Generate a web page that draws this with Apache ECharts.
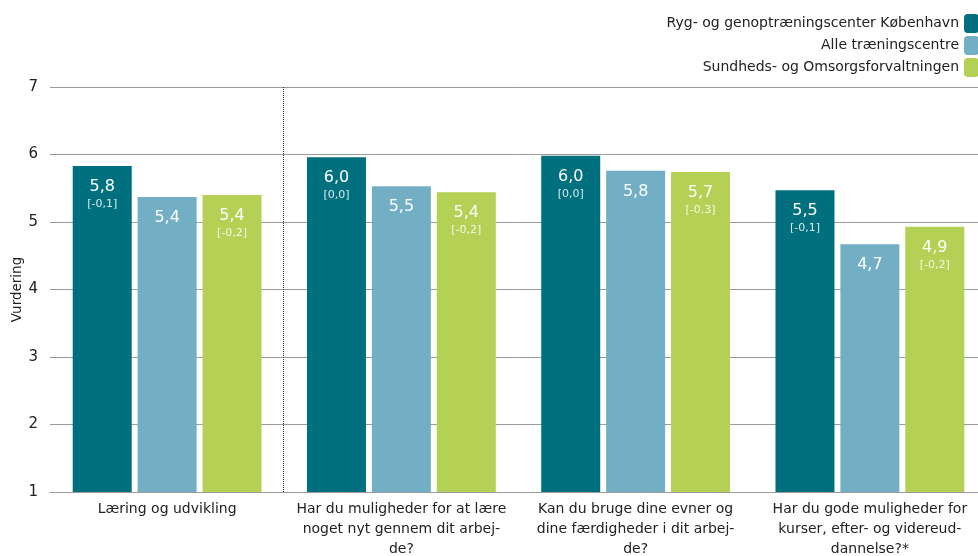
<!DOCTYPE html>
<html><head><meta charset="utf-8">
<script src="https://cdn.jsdelivr.net/npm/echarts@6/dist/echarts.min.js"></script>
<style>html,body{margin:0;padding:0;background:#fff}#c{width:978px;height:556px}</style>
</head><body><div id="c"></div>
<script>
const categories = [
  "Læring og udvikling",
  "Har du muligheder for at lære\nnoget nyt gennem dit arbej-\nde?",
  "Kan du bruge dine evner og\ndine færdigheder i dit arbej-\nde?",
  "Har du gode muligheder for\nkurser, efter- og videreud-\ndannelse?*"
];
const seriesNames = ["Ryg- og genoptræningscenter København", "Alle træningscentre", "Sundheds- og Omsorgsforvaltningen"];
const rygValues = [5.83, 5.96, 5.98, 5.47];
const alleValues = [5.37, 5.53, 5.76, 4.67];
const sofValues = [5.40, 5.44, 5.74, 4.93];
const rygDiffs = ["-0,1", "0,0", "0,0", "-0,1"];
const alleDiffs = [null, null, null, null];
const sofDiffs = ["-0,2", "-0,2", "-0,3", "-0,2"];
const yTicks = [1, 2, 3, 4, 5, 6, 7];
const colors = ["#00707F", "#72AFC4", "#B5D155"];

const FONT = "DejaVu Sans";
function mkSeries(name, vals, diffs, color) {
  return {
    name: name, type: 'bar', data: vals, barWidth: 59, barGap: '10%',
    itemStyle: { color: color },
    label: {
      show: true, position: 'insideTop', distance: 11,
      formatter: p => {
        const v = '{v|' + p.value.toFixed(1).replace('.', ',') + '}';
        const d = diffs[p.dataIndex];
        return d ? v + '\n{d|[' + d + ']}' : v;
      },
      rich: {
        v: { fontFamily: FONT, fontSize: 16, color: '#fff', lineHeight: 20 },
        d: { fontFamily: FONT, fontSize: 11, color: 'rgba(255,255,255,0.85)', lineHeight: 14 }
      }
    }
  };
}
const chart = echarts.init(document.getElementById('c'));
chart.setOption({
  animation: false,
  color: colors,
  textStyle: { fontFamily: FONT },
  legend: {
    orient: 'vertical', right: -6, top: 9, align: 'right',
    itemWidth: 15, itemHeight: 19, itemGap: 3,
    textStyle: { fontFamily: FONT, fontSize: 14, color: '#222' },
    data: seriesNames
  },
  grid: { left: 50, right: -9, top: 87, bottom: 64, outerBoundsMode: 'none', containLabel: false },
  xAxis: {
    type: 'category', data: categories,
    axisTick: { show: false },
    axisLine: { lineStyle: { color: '#999' } },
    axisLabel: { fontFamily: FONT, fontSize: 14, color: '#222', lineHeight: 20, margin: 7, interval: 0 },
    splitLine: { show: false }
  },
  yAxis: {
    type: 'value', min: 1, max: 7, interval: 1,
    name: 'Vurdering', nameLocation: 'middle', nameGap: 26, nameMoveOverlap: false,
    nameTextStyle: { fontFamily: FONT, fontSize: 13.5, color: '#222' },
    axisLabel: { fontFamily: FONT, fontSize: 15, color: '#222', margin: 12,
      formatter: v => yTicks.includes(v) ? String(v) : '' },
    axisLine: { show: false }, axisTick: { show: false },
    splitLine: { lineStyle: { color: '#9a9a9a' } }
  },
  series: [
    mkSeries(seriesNames[0], rygValues, rygDiffs, colors[0]),
    mkSeries(seriesNames[1], alleValues, alleDiffs, colors[1]),
    mkSeries(seriesNames[2], sofValues, sofDiffs, colors[2])
  ]
});
// dotted separator between first and second category
const p0 = chart.convertToPixel({ xAxisIndex: 0, yAxisIndex: 0 }, [0, 7]);
const p1 = chart.convertToPixel({ xAxisIndex: 0, yAxisIndex: 0 }, [1, 1]);
const sx = Math.round((p0[0] + p1[0]) / 2) - 0.5;
chart.setOption({
  graphic: [{
    type: 'line', shape: { x1: sx, y1: p0[1], x2: sx, y2: p1[1] },
    style: { stroke: '#333', lineWidth: 1, lineDash: [1, 1] }, z: 10
  }]
});
</script></body></html>
